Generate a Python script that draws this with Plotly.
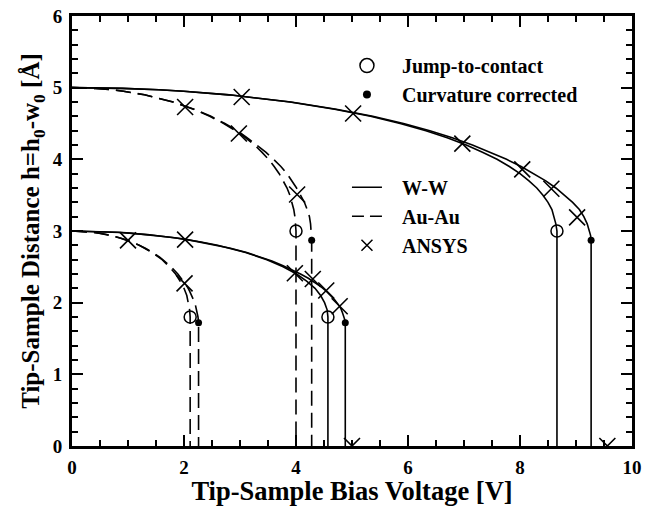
import plotly.graph_objects as go

# ---------------- data ----------------
# W-W, h0 = 5, jump-to-contact model
ww5_jtc_v = [0, 0.90, 1.55, 1.99, 2.80, 3.40, 3.89, 4.69, 5.33, 5.86, 6.32, 6.70, 7.04, 7.33,
             7.59, 7.81, 8.00, 8.16, 8.30, 8.41, 8.50, 8.57, 8.61, 8.64, 8.66, 8.66]
ww5_jtc_h = [5, 4.99, 4.97, 4.95, 4.90, 4.85, 4.80, 4.70, 4.60, 4.50, 4.40, 4.30, 4.20, 4.10,
             4.00, 3.90, 3.80, 3.70, 3.60, 3.50, 3.40, 3.30, 3.20, 3.10, 3.00, 0]
# W-W, h0 = 5, curvature corrected
ww5_cc_v = [0, 0.90, 1.55, 2.00, 2.81, 3.42, 3.91, 4.72, 5.37, 5.92, 6.39, 6.79, 7.15, 7.46,
            7.76, 8.02, 8.25, 8.46, 8.64, 8.80, 8.94, 9.06, 9.14, 9.20, 9.24, 9.26, 9.27, 9.27]
ww5_cc_h = [5, 4.99, 4.97, 4.95, 4.90, 4.85, 4.80, 4.70, 4.60, 4.50, 4.40, 4.30, 4.20, 4.10,
            4.00, 3.90, 3.80, 3.70, 3.60, 3.50, 3.40, 3.30, 3.20, 3.10, 3.00, 2.94, 2.87, 0]
# Au-Au, h0 = 5, jump-to-contact
au5_jtc_v = [0, 0.42, 0.72, 0.92, 1.29, 1.57, 1.80, 2.17, 2.46, 2.71, 2.92, 3.10, 3.26, 3.39,
             3.51, 3.61, 3.70, 3.77, 3.84, 3.89, 3.93, 3.96, 3.98, 3.995, 4.00, 4.00]
au5_jtc_h = [5, 4.99, 4.97, 4.95, 4.90, 4.85, 4.80, 4.70, 4.60, 4.50, 4.40, 4.30, 4.20, 4.10,
             4.00, 3.90, 3.80, 3.70, 3.60, 3.50, 3.40, 3.30, 3.20, 3.10, 3.00, 0]
# Au-Au, h0 = 5, curvature corrected
au5_cc_v = [0, 0.42, 0.72, 0.92, 1.30, 1.58, 1.81, 2.18, 2.48, 2.73, 2.95, 3.13, 3.30, 3.46,
            3.60, 3.73, 3.84, 3.93, 4.01, 4.08, 4.15, 4.20, 4.24, 4.26, 4.27, 4.28, 4.28, 4.28]
au5_cc_h = [5, 4.99, 4.97, 4.95, 4.90, 4.85, 4.80, 4.70, 4.60, 4.50, 4.40, 4.30, 4.20, 4.10,
            4.00, 3.90, 3.80, 3.70, 3.60, 3.50, 3.40, 3.30, 3.20, 3.10, 3.00, 2.94, 2.87, 0]
# W-W, h0 = 3, jump-to-contact
ww3_jtc_v = [0, 0.61, 0.86, 1.35, 1.89, 2.28, 2.60, 3.10, 3.48, 3.77, 4.01, 4.19, 4.34, 4.44,
             4.51, 4.556, 4.57, 4.57]
ww3_jtc_h = [3, 2.99, 2.98, 2.95, 2.90, 2.85, 2.80, 2.70, 2.60, 2.50, 2.40, 2.30, 2.20, 2.10,
             2.00, 1.90, 1.80, 0]
# W-W, h0 = 3, curvature corrected
ww3_cc_v = [0, 0.47, 0.82, 1.05, 1.48, 1.80, 2.06, 2.48, 2.83, 3.12, 3.36, 3.57, 3.76, 3.93,
            4.08, 4.22, 4.34, 4.45, 4.54, 4.62, 4.69, 4.75, 4.80, 4.83, 4.86, 4.87, 4.88, 4.88]
ww3_cc_h = [3, 2.994, 2.982, 2.97, 2.94, 2.91, 2.88, 2.82, 2.76, 2.70, 2.64, 2.58, 2.52, 2.46,
            2.40, 2.34, 2.28, 2.22, 2.16, 2.10, 2.04, 1.98, 1.92, 1.86, 1.80, 1.764, 1.72, 0]
# Au-Au, h0 = 3, jump-to-contact
au3_jtc_v = [0, 0.28, 0.40, 0.62, 0.87, 1.05, 1.20, 1.43, 1.61, 1.74, 1.85, 1.93, 2.00, 2.05,
             2.08, 2.10, 2.11, 2.11]
au3_jtc_h = [3, 2.99, 2.98, 2.95, 2.90, 2.85, 2.80, 2.70, 2.60, 2.50, 2.40, 2.30, 2.20, 2.10,
             2.00, 1.90, 1.80, 0]
# Au-Au, h0 = 3, curvature corrected
au3_cc_v = [0, 0.22, 0.38, 0.49, 0.69, 0.83, 0.95, 1.15, 1.31, 1.44, 1.56, 1.65, 1.74, 1.82,
            1.89, 1.95, 2.01, 2.06, 2.10, 2.14, 2.17, 2.20, 2.22, 2.24, 2.25, 2.255, 2.26, 2.26]
au3_cc_h = [3, 2.994, 2.982, 2.97, 2.94, 2.91, 2.88, 2.82, 2.76, 2.70, 2.64, 2.58, 2.52, 2.46,
            2.40, 2.34, 2.28, 2.22, 2.16, 2.10, 2.04, 1.98, 1.92, 1.86, 1.80, 1.764, 1.72, 0]

# jump-to-contact points (open circles) and curvature corrected points (dots)
jtc_v = [8.66, 4.00, 4.57, 2.11]
jtc_h = [3.00, 3.00, 1.80, 1.80]
cc_v = [9.27, 4.28, 4.88, 2.26]
cc_h = [2.87, 2.87, 1.72, 1.72]

# ANSYS results
ansys_v = [3.03, 5.02, 6.97, 8.04, 8.56, 9.02, 9.56, 2.02, 2.98, 4.02,
           1.00, 2.02, 2.01, 3.98, 4.30, 4.54, 4.78, 5.00]
ansys_h = [4.87, 4.64, 4.22, 3.86, 3.59, 3.19, 0.00, 4.73, 4.36, 3.51,
           2.87, 2.88, 2.27, 2.41, 2.33, 2.17, 1.95, 0.00]

legend_marker_names = ["Jump-to-contact", "Curvature corrected"]
legend_line_names = ["W-W", "Au-Au", "ANSYS"]

# ---------------- figure ----------------
fig = go.Figure()
DASH = "15px,7px"
LW = 1.6

curves = [
    (ww5_jtc_v, ww5_jtc_h, "solid"),
    (ww5_cc_v, ww5_cc_h, "solid"),
    (ww3_jtc_v, ww3_jtc_h, "solid"),
    (ww3_cc_v, ww3_cc_h, "solid"),
    (au5_jtc_v, au5_jtc_h, DASH),
    (au5_cc_v, au5_cc_h, DASH),
    (au3_jtc_v, au3_jtc_h, DASH),
    (au3_cc_v, au3_cc_h, DASH),
]
for xs, ys, d in curves:
    fig.add_trace(go.Scatter(x=xs, y=ys, mode="lines",
                             line=dict(color="black", width=LW, dash=d),
                             showlegend=False, hoverinfo="skip"))

fig.add_trace(go.Scatter(x=ansys_v, y=ansys_h, mode="markers",
                         marker=dict(symbol="x-thin-open", size=16, color="black",
                                     line=dict(color="black", width=1.6)),
                         showlegend=False))
fig.add_trace(go.Scatter(x=jtc_v, y=jtc_h, mode="markers",
                         marker=dict(symbol="circle-open", size=12, color="black",
                                     line=dict(color="black", width=1.5)),
                         showlegend=False))
fig.add_trace(go.Scatter(x=cc_v, y=cc_h, mode="markers",
                         marker=dict(symbol="circle", size=7, color="black"),
                         showlegend=False))

NB = "\u00a0\u00a0\u00a0"
# legend 1 (markers)
fig.add_trace(go.Scatter(x=[None], y=[None], mode="markers", name=NB + legend_marker_names[0],
                         marker=dict(symbol="circle-open", size=14, color="black",
                                     line=dict(color="black", width=1.5)),
                         legend="legend"))
fig.add_trace(go.Scatter(x=[None], y=[None], mode="markers", name=NB + legend_marker_names[1],
                         marker=dict(symbol="circle", size=8, color="black"),
                         legend="legend"))
# legend 2 (lines)
fig.add_trace(go.Scatter(x=[None], y=[None], mode="lines", name=NB + legend_line_names[0],
                         line=dict(color="black", width=LW), legend="legend2"))
fig.add_trace(go.Scatter(x=[None], y=[None], mode="lines", name=NB + legend_line_names[1],
                         line=dict(color="black", width=LW, dash="12px,6px"), legend="legend2"))
fig.add_trace(go.Scatter(x=[None], y=[None], mode="markers", name=NB + legend_line_names[2],
                         marker=dict(symbol="x-thin-open", size=11, color="black",
                                     line=dict(color="black", width=1.5)),
                         legend="legend2"))

FONT = "Liberation Serif"
TICKFONT = dict(size=19, family=FONT, color="black", weight="bold")
TITLEFONT = dict(size=26.5, family=FONT, color="black", weight="bold")

fig.update_layout(
    template="none",
    width=646, height=506,
    margin=dict(l=72, r=14, t=16, b=60),
    paper_bgcolor="white", plot_bgcolor="white",
    font=dict(family=FONT, color="black", size=20, weight="bold"),
    xaxis=dict(range=[0, 10], dtick=2,
               ticks="inside", ticklen=11, tickwidth=2, tickcolor="black",
               showline=True, linewidth=3, linecolor="black", mirror="allticks",
               showgrid=False, zeroline=False, tickfont=TICKFONT, ticklabelstandoff=2,
               minor=dict(dtick=0.5, ticks="inside", ticklen=6, tickwidth=2, tickcolor="black",
                          showgrid=False),
               title=dict(text="Tip-Sample Bias Voltage [V]", standoff=3, font=TITLEFONT)),
    yaxis=dict(range=[0, 6], dtick=1,
               ticks="inside", ticklen=11, tickwidth=2, tickcolor="black",
               showline=True, linewidth=3, linecolor="black", mirror="allticks",
               showgrid=False, zeroline=False, tickfont=TICKFONT, ticklabelstandoff=3,
               minor=dict(dtick=0.2, ticks="inside", ticklen=6, tickwidth=2, tickcolor="black",
                          showgrid=False),
               title=dict(text="Tip-Sample Distance h=h<sub>0</sub>-w<sub>0</sub> [Å]", standoff=6,
                          font=dict(size=25, family=FONT, color="black", weight="bold"))),
    legend=dict(x=0.491, y=0.930, xanchor="left", yanchor="top", bgcolor="rgba(0,0,0,0)",
                font=dict(size=20, family=FONT, color="black", weight="bold"),
                itemwidth=30, tracegroupgap=0, borderwidth=0),
    legend2=dict(x=0.491, y=0.647, xanchor="left", yanchor="top", bgcolor="rgba(0,0,0,0)",
                 font=dict(size=20, family=FONT, color="black", weight="bold"),
                 itemwidth=30, tracegroupgap=0, borderwidth=0),
)

fig.write_html("out.html")
